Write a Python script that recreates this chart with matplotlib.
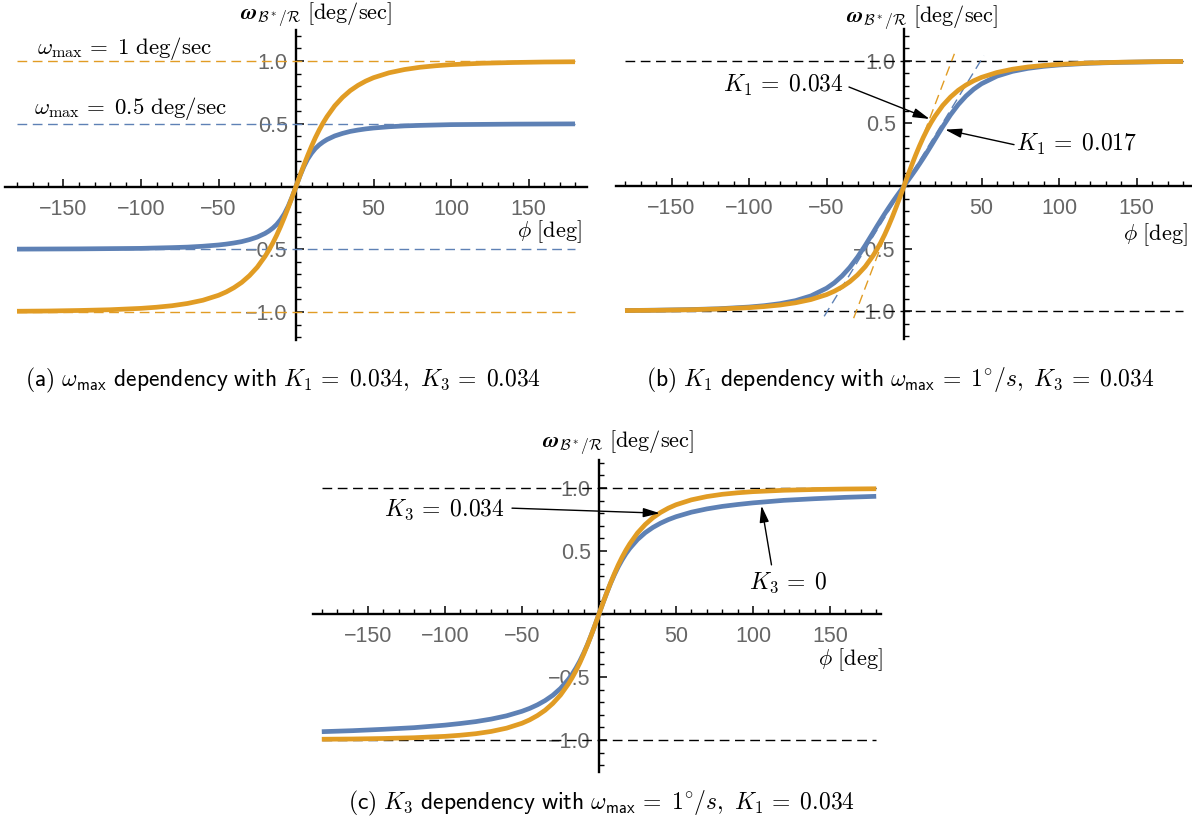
import numpy as np
import matplotlib
matplotlib.use("Agg")
import matplotlib.pyplot as plt

plt.rcParams['mathtext.fontset'] = 'cm'
plt.rcParams['font.family'] = ['Liberation Sans', 'DejaVu Sans']

# ---- data ----
phi = [-180, -160, -140, -120, -100, -90, -80, -70, -60, -50, -45, -40, -35, -30, -25,
       -20, -17.5, -15, -12.5, -10, -7.5, -5, -2.5, 0, 2.5, 5, 7.5, 10, 12.5, 15, 17.5,
       20, 25, 30, 35, 40, 45, 50, 60, 70, 80, 90, 100, 120, 140, 160, 180]

# omega_max = 1, K1 = 0.034, K3 = 0.034 (orange in all three panels)
w_ref = [-0.994, -0.992, -0.988, -0.982, -0.971, -0.962, -0.950, -0.932, -0.906, -0.867,
         -0.840, -0.806, -0.764, -0.710, -0.643, -0.557, -0.507, -0.451, -0.389, -0.320,
         -0.246, -0.167, -0.085, 0.0, 0.085, 0.167, 0.246, 0.320, 0.389, 0.451, 0.507,
         0.557, 0.643, 0.710, 0.764, 0.806, 0.840, 0.867, 0.906, 0.932, 0.950, 0.962,
         0.971, 0.982, 0.988, 0.992, 0.994]

# (a) omega_max = 0.5
w_half = [-0.499, -0.498, -0.497, -0.495, -0.493, -0.490, -0.487, -0.483, -0.476, -0.466,
          -0.459, -0.450, -0.439, -0.423, -0.403, -0.374, -0.355, -0.332, -0.303, -0.265,
          -0.218, -0.157, -0.083, 0.0, 0.083, 0.157, 0.218, 0.265, 0.303, 0.332, 0.355,
          0.374, 0.403, 0.423, 0.439, 0.450, 0.459, 0.466, 0.476, 0.483, 0.487, 0.490,
          0.493, 0.495, 0.497, 0.498, 0.499]

# (b) K1 = 0.017
w_k1 = [-0.994, -0.991, -0.987, -0.980, -0.966, -0.955, -0.939, -0.915, -0.877, -0.816,
        -0.773, -0.718, -0.650, -0.568, -0.474, -0.373, -0.322, -0.272, -0.223, -0.176,
        -0.130, -0.086, -0.043, 0.0, 0.043, 0.086, 0.130, 0.176, 0.223, 0.272, 0.322,
        0.373, 0.474, 0.568, 0.650, 0.718, 0.773, 0.816, 0.877, 0.915, 0.939, 0.955,
        0.966, 0.980, 0.987, 0.991, 0.994]

# (c) K3 = 0
w_k3 = [-0.934, -0.926, -0.915, -0.902, -0.882, -0.869, -0.854, -0.834, -0.808, -0.772,
        -0.749, -0.721, -0.687, -0.645, -0.591, -0.521, -0.479, -0.430, -0.375, -0.312,
        -0.243, -0.166, -0.085, 0.0, 0.085, 0.166, 0.243, 0.312, 0.375, 0.430, 0.479,
        0.521, 0.591, 0.645, 0.687, 0.721, 0.749, 0.772, 0.808, 0.834, 0.854, 0.869,
        0.882, 0.902, 0.915, 0.926, 0.934]

# dashed slope lines in (b)
slope_phi_orange = [-32.5, 32.5]
slope_w_orange = [-1.055, 1.055]
slope_phi_blue = [-51.5, 51.5]
slope_w_blue = [-1.04, 1.04]

xticks = [-150, -100, -50, 50, 100, 150]
xticklabels = ['\u2212150', '\u2212100', '\u221250', '50', '100', '150']
yticks = [-1.0, -0.5, 0.5, 1.0]
yticklabels = ['\u22121.0', '\u22120.5', '0.5', '1.0']

BLUE = '#5E81B5'
ORANGE = '#E19C24'
GRAY = '#666666'

W, H = 1192, 824
fig = plt.figure(figsize=(W / 100, H / 100), dpi=100)

ylabel = r'$\mathbfit{\omega}_{\mathcal{B}^*/\mathcal{R}}\ \mathrm{[deg/sec]}$'
xlabel = r'$\phi\ \mathrm{[deg]}$'
EQ = r'\,=\;'


def make_axes(ox, oy, sx, sy, xlim, ylim):
    # ox, oy: pixel position of the origin; sx, sy: pixels per unit
    left = ox + xlim[0] * sx
    right = ox + xlim[1] * sx
    top = oy - ylim[1] * sy
    bottom = oy - ylim[0] * sy
    ax = fig.add_axes([left / W, 1 - bottom / H, (right - left) / W, (bottom - top) / H])
    ax.set_xlim(xlim)
    ax.set_ylim(ylim)
    ax.patch.set_alpha(0)
    for s in ['top', 'right']:
        ax.spines[s].set_visible(False)
    for s in ['left', 'bottom']:
        ax.spines[s].set_position(('data', 0))
        ax.spines[s].set_linewidth(1.7)
        ax.spines[s].set_zorder(1)
    ax.set_xticks(xticks)
    ax.set_xticklabels(xticklabels)
    ax.set_yticks(yticks)
    ax.set_yticklabels(yticklabels)
    ax.set_xticks(np.arange(-180, 181, 10), minor=True)
    ax.set_yticks(np.arange(-1.2, 1.21, 0.1), minor=True)
    ax.tick_params(which='major', direction='in', length=6, width=1.1,
                   labelsize=15.5, labelcolor=GRAY)
    ax.tick_params(which='minor', direction='in', length=3.5, width=1.0)
    ax.tick_params(axis='x', which='major', pad=9)
    ax.tick_params(axis='y', which='major', pad=6)
    for lab in ax.get_xticklabels() + ax.get_yticklabels():
        lab.set_zorder(5)
    return ax


def arrow(ax, start, tip):
    ax.annotate('', xy=tip, xytext=start,
                arrowprops=dict(arrowstyle='-|>,head_length=1.0,head_width=0.28',
                                color='black', lw=1.0, shrinkA=0, shrinkB=0))


dash = (0, (7, 4))

# (a)
ax = make_axes(296, 186.5, 1.55, 125.5, (-188, 188), (-1.22, 1.25))
ax.plot([-180, 180], [1, 1], color=ORANGE, lw=1, ls=dash)
ax.plot([-180, 180], [-1, -1], color=ORANGE, lw=1, ls=dash)
ax.plot([-180, 180], [0.5, 0.5], color=BLUE, lw=1, ls=dash)
ax.plot([-180, 180], [-0.5, -0.5], color=BLUE, lw=1, ls=dash)
ax.plot(phi, w_half, color=BLUE, lw=3.4, solid_capstyle='butt')
ax.plot(phi, w_ref, color=ORANGE, lw=3.4, solid_capstyle='butt')
ax.text(-167, 1.10, r'$\omega_{\max}' + EQ + r'1\ \mathrm{deg/sec}$', fontsize=16.5, va='center')
ax.text(-169, 0.625, r'$\omega_{\max}' + EQ + r'0.5\ \mathrm{deg/sec}$', fontsize=16.5, va='center')
ax.text(-36, 1.37, ylabel, fontsize=16, va='center', ha='left', clip_on=False)
ax.text(184, -0.36, xlabel, fontsize=16, va='center', ha='right', clip_on=False)

# (b)
ax = make_axes(904, 186, 1.55, 125.3, (-186, 185), (-1.22, 1.25))
ax.plot([-180, 180], [1, 1], color='black', lw=1, ls=dash)
ax.plot([-180, 180], [-1, -1], color='black', lw=1, ls=dash)
ax.plot(slope_phi_orange, slope_w_orange, color=ORANGE, lw=1, ls=dash)
ax.plot(slope_phi_blue, slope_w_blue, color=BLUE, lw=1, ls=dash)
ax.plot(phi, w_k1, color=BLUE, lw=3.4, solid_capstyle='butt')
ax.plot(phi, w_ref, color=ORANGE, lw=3.4, solid_capstyle='butt')
ax.text(-39, 0.80, r'$K_1' + EQ + r'0.034$', fontsize=17, va='center', ha='right')
arrow(ax, (-35.5, 0.79), (16.5, 0.535))
ax.text(72, 0.33, r'$K_1' + EQ + r'0.017$', fontsize=17, va='center', ha='left')
arrow(ax, (71, 0.33), (26.5, 0.45))
ax.text(-37.5, 1.34, ylabel, fontsize=16, va='center', ha='left', clip_on=False)
ax.text(183, -0.39, xlabel, fontsize=16, va='center', ha='right', clip_on=False)

# (c)
ax = make_axes(599, 614, 1.54, 126, (-186, 183), (-1.25, 1.22))
ax.plot([-180, 180], [1, 1], color='black', lw=1, ls=dash)
ax.plot([-180, 180], [-1, -1], color='black', lw=1, ls=dash)
ax.plot(phi, w_k3, color=BLUE, lw=3.4, solid_capstyle='butt')
ax.plot(phi, w_ref, color=ORANGE, lw=3.4, solid_capstyle='butt')
ax.text(-61.5, 0.825, r'$K_3' + EQ + r'0.034$', fontsize=17, va='center', ha='right')
arrow(ax, (-56.5, 0.84), (39.5, 0.80))
ax.text(123, 0.245, r'$K_3' + EQ + r'0$', fontsize=17, va='center', ha='center')
arrow(ax, (112, 0.39), (105.5, 0.86))
ax.text(-37, 1.357, ylabel, fontsize=16, va='center', ha='left', clip_on=False)
ax.text(184, -0.365, xlabel, fontsize=16, va='center', ha='right', clip_on=False)

# captions
fig.text(283 / W, 1 - 380 / H,
         r'$\mathsf{(a)}\ \omega_{\mathsf{max}}\ \mathsf{dependency\ with}\ K_1' + EQ +
         r'0.034,\ K_3' + EQ + r'0.034$',
         ha='center', va='center', fontsize=17)
fig.text(900 / W, 1 - 380 / H,
         r'$\mathsf{(b)}\ K_1\ \mathsf{dependency\ with}\ \omega_{\mathsf{max}}' + EQ +
         r'1^{\circ}/s,\ K_3' + EQ + r'0.034$',
         ha='center', va='center', fontsize=17)
fig.text(601 / W, 1 - 803 / H,
         r'$\mathsf{(c)}\ K_3\ \mathsf{dependency\ with}\ \omega_{\mathsf{max}}' + EQ +
         r'1^{\circ}/s,\ K_1' + EQ + r'0.034$',
         ha='center', va='center', fontsize=17)

fig.savefig('out.png', dpi=100)
